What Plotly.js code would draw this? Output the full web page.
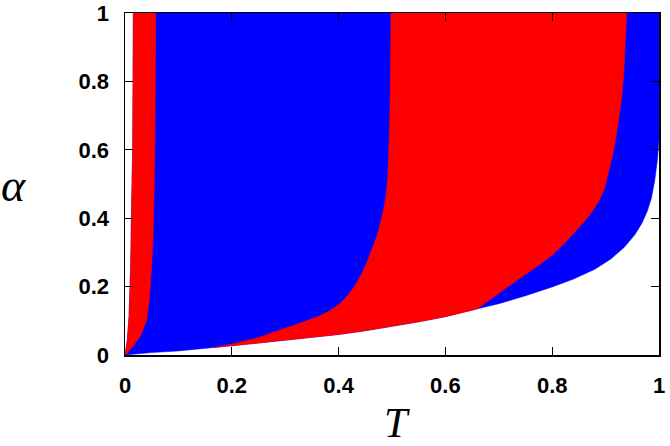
<!DOCTYPE html>
<html>
<head>
<meta charset="utf-8">
<script src="https://cdn.plot.ly/plotly-3.0.1.min.js"></script>
<style>
  html, body { margin: 0; padding: 0; background: #fff; }
  #phase { width: 670px; height: 446px; }
</style>
</head>
<body>
<div id="phase"></div>
<script>
// Diagrama de fases (T, alpha) - fronteiras

// limites dos eixos
const tMax = 1;
const alphaMax = 1;

// borda inferior da região colorida (branco abaixo)
const lowT = [0, 0.02, 0.05, 0.1, 0.15, 0.165, 0.2, 0.25, 0.3, 0.35, 0.4, 0.45, 0.5, 0.55, 0.6, 0.65, 0.66, 0.7, 0.75, 0.8, 0.84, 0.88, 0.91, 0.935, 0.955, 0.968, 0.978, 0.986, 0.992, 0.997, 1];
const lowA = [0, 0.003, 0.007, 0.012, 0.019, 0.0215, 0.027, 0.035, 0.043, 0.051, 0.060, 0.071, 0.083, 0.097, 0.112, 0.131, 0.135, 0.150, 0.173, 0.199, 0.222, 0.251, 0.281, 0.315, 0.352, 0.385, 0.420, 0.460, 0.51, 0.57, 0.629];

// borda esquerda (branco / vermelho)
const edgeT = [0, 0.0044, 0.0075, 0.0106, 0.0125, 0.0144, 0.0156];
const edgeA = [0, 0.044, 0.112, 0.258, 0.453, 0.6, 1];

// fronteira vermelho / azul perto de T = 0
const split1T = [0.002, 0.006, 0.012, 0.019, 0.025, 0.031, 0.036, 0.0406, 0.0455, 0.05, 0.053, 0.055, 0.056, 0.0575];
const split1A = [0.002, 0.01, 0.02, 0.034, 0.047, 0.063, 0.08, 0.102, 0.161, 0.258, 0.356, 0.453, 0.6, 1];

// fronteira azul / vermelho no meio
const split2T = [0.165, 0.2, 0.25, 0.3, 0.34, 0.365, 0.385, 0.40, 0.415, 0.428, 0.44, 0.452, 0.462, 0.471, 0.478, 0.484, 0.489, 0.492, 0.494, 0.496, 0.497, 0.498];
const split2A = [0.0215, 0.032, 0.051, 0.077, 0.100, 0.115, 0.131, 0.147, 0.170, 0.197, 0.228, 0.266, 0.305, 0.345, 0.385, 0.425, 0.47, 0.52, 0.60, 0.70, 0.84, 1];

// fronteira vermelho / azul à direita
const split3T = [0.66, 0.70, 0.74, 0.771, 0.80, 0.825, 0.846, 0.863, 0.877, 0.889, 0.899, 0.907, 0.914, 0.920, 0.925, 0.930, 0.934, 0.937, 0.9395];
const split3A = [0.135, 0.18, 0.225, 0.258, 0.292, 0.330, 0.365, 0.395, 0.424, 0.455, 0.492, 0.54, 0.590, 0.64, 0.69, 0.75, 0.82, 0.90, 1];

const tickVals = [0, 0.2, 0.4, 0.6, 0.8, 1];
const tickText = ['0', '0.2', '0.4', '0.6', '0.8', '1'];

const rev = a => a.slice().reverse();

// região azul (tudo acima da borda inferior)
const blueX = edgeT.concat([tMax], rev(lowT));
const blueY = edgeA.concat([alphaMax], rev(lowA));

// faixa vermelha à esquerda
const red1X = edgeT.concat(rev(split1T));
const red1Y = edgeA.concat(rev(split1A));

// região vermelha do meio: fronteira 2, fronteira 3 e trecho da borda inferior
const t0 = split2T[0], t1 = split3T[0];
const midLowT = [], midLowA = [];
lowT.forEach((t, i) => {
    if (t >= t0 && t <= t1) { midLowT.push(t); midLowA.push(lowA[i]); }
});
const red2X = split2T.concat(rev(split3T), rev(midLowT));
const red2Y = split2A.concat(rev(split3A), rev(midLowA));

function region(x, y, color) {
    return {
        x: x, y: y,
        mode: 'lines',
        fill: 'toself',
        fillcolor: color,
        line: {color: color, width: 0.5},
        hoverinfo: 'skip',
        showlegend: false
    };
}

const axisStyle = {
    range: [0, 1],
    tickvals: tickVals,
    ticktext: tickText,
    ticks: 'inside',
    ticklen: 8,
    tickwidth: 1,
    tickcolor: '#000',
    mirror: 'ticks',
    showline: true,
    linecolor: '#000',
    linewidth: 1.5,
    showgrid: false,
    zeroline: false,
    ticklabelstandoff: 10,
    tickfont: {family: 'Liberation Sans, Arial, sans-serif', size: 22, weight: 'bold', color: '#000'}
};

Plotly.newPlot('phase', [
    region(blueX, blueY, '#0000ff'),
    region(red1X, red1Y, '#ff0000'),
    region(red2X, red2Y, '#ff0000')
], {
    width: 670,
    height: 446,
    margin: {l: 125, r: 11, t: 13, b: 91},
    paper_bgcolor: '#fff',
    plot_bgcolor: '#fff',
    xaxis: Object.assign({}, axisStyle),
    yaxis: Object.assign({}, axisStyle),
    annotations: [{
        text: '<i>α</i>',
        xref: 'paper', yref: 'paper',
        x: -0.208, y: 0.495,
        xanchor: 'center', yanchor: 'middle',
        showarrow: false,
        font: {family: 'Liberation Serif, serif', size: 46, color: '#000'}
    }, {
        text: '<i>T</i>',
        xref: 'paper', yref: 'paper',
        x: 0.509, y: -0.1985,
        xanchor: 'center', yanchor: 'middle',
        showarrow: false,
        font: {family: 'Liberation Serif, serif', size: 42, color: '#000'}
    }]
}, {staticPlot: true});
</script>
</body>
</html>
